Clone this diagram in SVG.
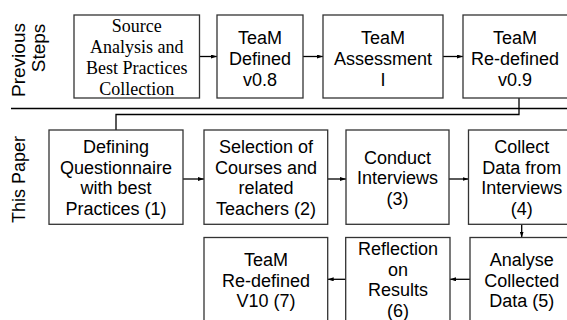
<svg xmlns="http://www.w3.org/2000/svg" width="567" height="320" viewBox="0 0 567 320">
<style>
.box{fill:#fff;stroke:#333;stroke-width:1.3}
.t{font-family:"Liberation Sans",Arial,sans-serif;font-size:18px;fill:#000;text-anchor:middle}
.s{font-family:"Liberation Serif","Times New Roman",serif;font-size:18px;fill:#000;text-anchor:middle}
.c{fill:none;stroke:#000;stroke-width:1.3}
.lbl{font-family:"Liberation Sans",Arial,sans-serif;font-size:18px;fill:#000;text-anchor:middle}
</style>
<defs>
<marker id="ah" viewBox="0 0 6 4" refX="6" refY="2" markerWidth="6" markerHeight="4" markerUnits="userSpaceOnUse" orient="auto">
<path d="M0,0 L6,2 L0,4 Z" fill="#000"/>
</marker>
</defs>
<rect width="567" height="320" fill="#fff"/>

<g id="labels">
<text class="lbl" transform="translate(25,60) rotate(-90)" style="font-size:19px">Previous</text>
<text class="lbl" transform="translate(45,48) rotate(-90)" style="font-size:19px">Steps</text>
<text class="lbl" transform="translate(24.5,179.5) rotate(-90)">This Paper</text>
</g>

<g id="connectors">
<line x1="11" y1="108.5" x2="567" y2="108.5" stroke="#000" stroke-width="1.5"/>
<line class="c" x1="199.5" y1="56.5" x2="217" y2="56.5" marker-end="url(#ah)"/>
<line class="c" x1="303" y1="56.5" x2="323" y2="56.5" marker-end="url(#ah)"/>
<line class="c" x1="443" y1="56.5" x2="463" y2="56.5" marker-end="url(#ah)"/>
<polyline class="c" points="519,98 519,114.5 116,114.5 116,130"/>
<line class="c" x1="183" y1="179" x2="204" y2="179" marker-end="url(#ah)"/>
<line class="c" x1="327.7" y1="179" x2="346" y2="179" marker-end="url(#ah)"/>
<line class="c" x1="449" y1="179" x2="468.5" y2="179" marker-end="url(#ah)"/>
<line class="c" x1="521.7" y1="224.3" x2="521.7" y2="237.5" marker-end="url(#ah)"/>
<line class="c" x1="470" y1="279.3" x2="450" y2="279.3" marker-end="url(#ah)"/>
<line class="c" x1="345.7" y1="279.3" x2="327.7" y2="279.3" marker-end="url(#ah)"/>
</g>

<g id="source">
<rect class="box" x="74" y="15" width="125.5" height="83"/>
<text class="s" x="136.8" y="32">Source</text>
<text class="s" x="136.8" y="53">Analysis and</text>
<text class="s" x="136.8" y="74">Best Practices</text>
<text class="s" x="136.8" y="95">Collection</text>
</g>
<g id="defined08">
<rect class="box" x="217" y="15" width="86" height="83"/>
<text class="t" x="260" y="43.5">TeaM</text>
<text class="t" x="260" y="64.5">Defined</text>
<text class="t" x="260" y="85.5">v0.8</text>
</g>
<g id="assessment">
<rect class="box" x="323" y="15" width="120" height="83"/>
<text class="t" x="383" y="43.5">TeaM</text>
<text class="t" x="383" y="64.5">Assessment</text>
<text class="t" x="383" y="85.5">I</text>
</g>
<g id="redefined09">
<rect class="box" x="463" y="15" width="106" height="83"/>
<text class="t" x="515" y="43.5">TeaM</text>
<text class="t" x="515" y="64.5">Re-defined</text>
<text class="t" x="515" y="85.5">v0.9</text>
</g>

<g id="step1">
<rect class="box" x="49" y="130" width="134" height="94.3"/>
<text class="t" x="116" y="153">Defining</text>
<text class="t" x="116" y="173.7">Questionnaire</text>
<text class="t" x="116" y="194.4">with best</text>
<text class="t" x="116" y="215">Practices (1)</text>
</g>
<g id="step2">
<rect class="box" x="204" y="130" width="123.7" height="94.3"/>
<text class="t" x="266" y="153">Selection of</text>
<text class="t" x="266" y="173.7">Courses and</text>
<text class="t" x="266" y="194.4">related</text>
<text class="t" x="266" y="215">Teachers (2)</text>
</g>
<g id="step3">
<rect class="box" x="346" y="130" width="103" height="94.3"/>
<text class="t" x="397.5" y="163.5">Conduct</text>
<text class="t" x="397.5" y="184.2">Interviews</text>
<text class="t" x="397.5" y="205">(3)</text>
</g>
<g id="step4">
<rect class="box" x="468.5" y="130" width="106.5" height="94.3"/>
<text class="t" x="521.7" y="153">Collect</text>
<text class="t" x="521.7" y="173.7">Data from</text>
<text class="t" x="521.7" y="194.4">Interviews</text>
<text class="t" x="521.7" y="215">(4)</text>
</g>
<g id="step5">
<rect class="box" x="470" y="237.5" width="104" height="85"/>
<text class="t" x="521.7" y="266">Analyse</text>
<text class="t" x="521.7" y="286.5">Collected</text>
<text class="t" x="521.7" y="307">Data (5)</text>
</g>
<g id="step6">
<rect class="box" x="345.7" y="237.5" width="104.3" height="85"/>
<text class="t" x="398" y="255">Reflection</text>
<text class="t" x="398" y="275.7">on</text>
<text class="t" x="398" y="296.4">Results</text>
<text class="t" x="398" y="317">(6)</text>
</g>
<g id="step7">
<rect class="box" x="204" y="237.5" width="123.7" height="85"/>
<text class="t" x="266" y="266">TeaM</text>
<text class="t" x="266" y="286.5">Re-defined</text>
<text class="t" x="266" y="307">V10 (7)</text>
</g>
</svg>
